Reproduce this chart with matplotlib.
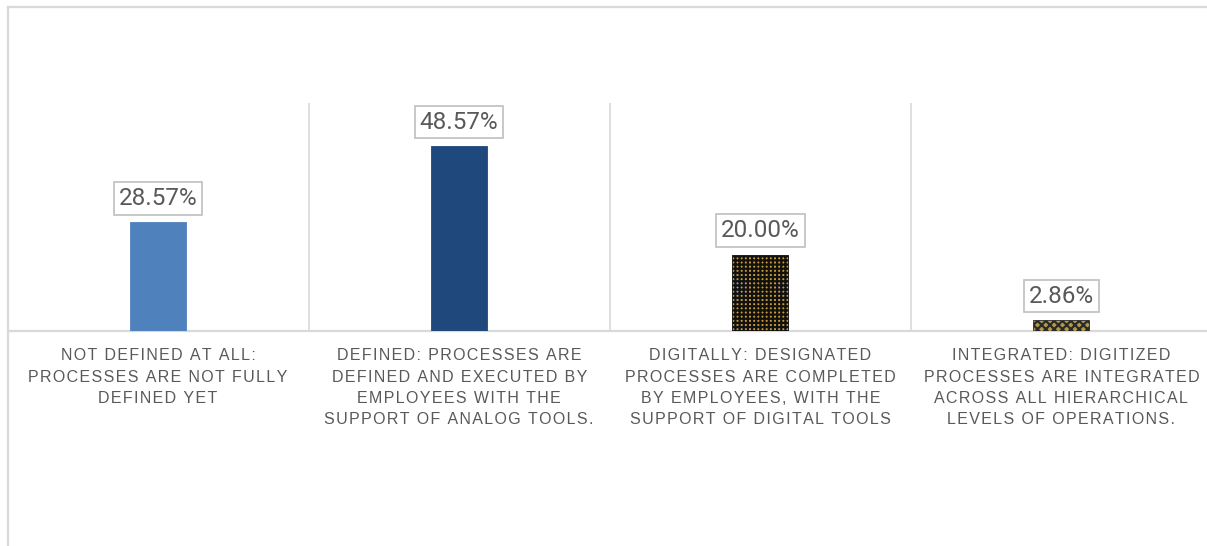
import numpy as np
import matplotlib
matplotlib.use('Agg')
import matplotlib.pyplot as plt
from matplotlib.lines import Line2D

categories = [
    'NOT DEFINED AT ALL:\nPROCESSES ARE NOT FULLY\nDEFINED YET',
    'DEFINED: PROCESSES ARE\nDEFINED AND EXECUTED BY\nEMPLOYEES WITH THE\nSUPPORT OF ANALOG TOOLS.',
    'DIGITALLY: DESIGNATED\nPROCESSES ARE COMPLETED\nBY EMPLOYEES, WITH THE\nSUPPORT OF DIGITAL TOOLS',
    'INTEGRATED: DIGITIZED\nPROCESSES ARE INTEGRATED\nACROSS ALL HIERARCHICAL\nLEVELS OF OPERATIONS.',
]
values = [28.57, 48.57, 20.00, 2.86]
value_labels = ['28.57%', '48.57%', '20.00%', '2.86%']

bar_colors = ['#4f81bd', '#1f497d', '#c99a36', '#b09a45']
bar_edges = ['#4f81bd', '#1f497d', '#111111', '#2a2a2a']
bar_hatches = [None, None, '++++', 'xxxx']

grid_col = '#d9d9d9'
text_col = '#595959'

plt.rcParams['hatch.linewidth'] = 1.6


def spaced(s):
    # wide tracking for the category captions
    return '\n'.join('\u200a'.join(line) for line in s.split('\n'))


fig = plt.figure(figsize=(12.07, 5.46), dpi=100)
ax = fig.add_axes([7.5 / 1207, 215 / 546, 1204.5 / 1207, 228.5 / 546])

x = np.arange(len(values))
bars = ax.bar(x, values, width=0.186, color=bar_colors, edgecolor=bar_edges,
              linewidth=0.6, zorder=3)
for b, h in zip(bars, bar_hatches):
    if h:
        b.set_hatch(h)

ax.set_xlim(-0.5, len(values) - 0.5)
ax.set_ylim(0, 60)
ax.vlines(np.arange(0.5, len(values) - 0.5), 0, 60, color=grid_col, lw=1.2, zorder=1)

for s in ['top', 'right', 'left']:
    ax.spines[s].set_visible(False)
ax.spines['bottom'].set_color(grid_col)
ax.spines['bottom'].set_linewidth(1.6)
ax.set_yticks([])
ax.set_xticks([])

for xi, v, lab in zip(x, values, value_labels):
    ax.annotate(lab, (xi, v), xytext=(0, 9), textcoords='offset points',
                ha='center', va='bottom', fontsize=17.5, color=text_col,
                family=['Roboto', 'DejaVu Sans'],
                bbox=dict(boxstyle='square,pad=0.2', fc='white', ec='#bfbfbf', lw=1.2),
                zorder=5)

for xi, cat in zip(x, categories):
    ax.annotate(spaced(cat), (xi, 0), xycoords=ax.get_xaxis_transform(),
                xytext=(0, -12.5), textcoords='offset points',
                ha='center', va='top', multialignment='center',
                fontsize=11.5, color=text_col, linespacing=1.52,
                family=['Liberation Sans', 'DejaVu Sans'])

# chart area border
fig.add_artist(Line2D([7.5 / 1207, 7.5 / 1207], [0, 1 - 6.5 / 546],
                      transform=fig.transFigure, color=grid_col, lw=1.6))
fig.add_artist(Line2D([7.5 / 1207, 1.01], [1 - 6.5 / 546, 1 - 6.5 / 546],
                      transform=fig.transFigure, color=grid_col, lw=1.6))

fig.savefig('out.png', dpi=100, facecolor='white')
